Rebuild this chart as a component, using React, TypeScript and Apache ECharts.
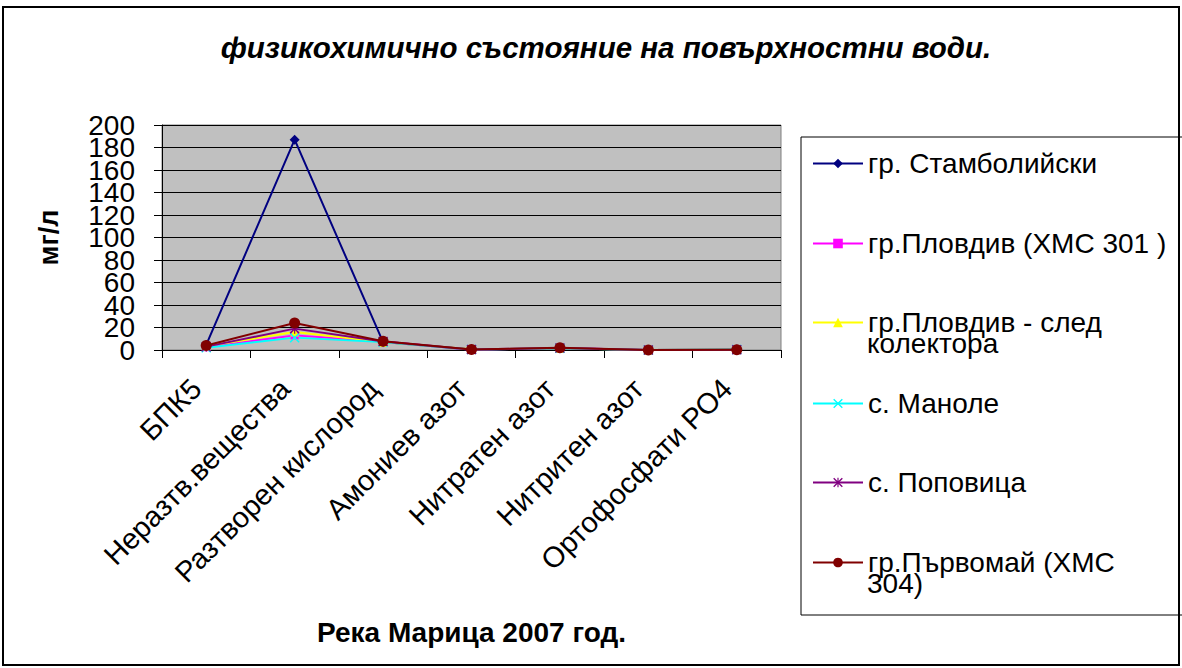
import React, { useEffect, useRef } from "react";
import * as echarts from "echarts";

const title = "физикохимично състояние на повърхностни води.";
const xAxisName = "Река Марица 2007 год.";
const yAxisName = "мг/л";
const categories = [
  "БПК5",
  "Неразтв.вещества",
  "Разтворен кислород",
  "Амониев азот",
  "Нитратен азот",
  "Нитритен азот",
  "Ортофосфати РО4",
];
const seriesNames = [
  "гр. Стамболийски",
  "гр.Пловдив (ХМС 301 )",
  "гр.Пловдив - след колектора",
  "с. Маноле",
  "с. Поповица",
  "гр.Първомай (ХМС 304)",
];
const legendLines = [
  ["гр. Стамболийски"],
  ["гр.Пловдив (ХМС 301 )"],
  ["гр.Пловдив - след", "колектора"],
  ["с. Маноле"],
  ["с. Поповица"],
  ["гр.Първомай (ХМС", "304)"],
];
const yMin = 0;
const yMax = 200;
const yStep = 20;
const stamboliyski = [4.5, 187, 7, 0.4, 1.5, 0.05, 0.3];
const plovdiv301 = [2.5, 13, 7.5, 0.3, 1.8, 0.04, 0.3];
const plovdivSled = [3.5, 16, 7, 0.6, 1.5, 0.05, 0.4];
const manole = [2, 11, 7, 0.5, 1.6, 0.05, 0.5];
const popovitsa = [3, 19, 7.5, 0.4, 1.8, 0.05, 0.3];
const parvomai = [4, 24, 7.8, 0.4, 2, 0.05, 0.3];
const seriesData = [stamboliyski, plovdiv301, plovdivSled, manole, popovitsa, parvomai];
const colors = ["#000080", "#FF00FF", "#FFFF00", "#00FFFF", "#800080", "#800000"];
const crossPath =
  "path://M1,0L5,4L9,0L10,1L6,5L10,9L9,10L5,6L1,10L0,9L4,5L0,1Z";
const starPath =
  "path://M1,0L5,4L9,0L10,1L6,5L10,9L9,10L5,6L1,10L0,9L4,5L0,1ZM4.4,0L5.6,0L5.6,10L4.4,10Z";
const symbols = ["diamond", "rect", "triangle", crossPath, starPath, "circle"];
const symbolSizes = [10, 8, 9, 10, 10, 11];
const legendCenters = [163, 243, 322, 403, 482, 562];

const FONT = "Liberation Sans, Arial, sans-serif";

export default function App() {
  const ref = useRef<HTMLDivElement>(null);
  useEffect(() => {
    const chart = echarts.init(ref.current!, null, { renderer: "svg" });
    const legends = seriesNames.map((name, i) => ({
      orient: "vertical",
      left: 812,
      top: legendCenters[i] - 13.5,
      itemWidth: 50,
      itemHeight: 12,
      padding: 0,
      data: [name],
      formatter: () => legendLines[i][0],
      textStyle: { fontFamily: FONT, fontSize: 28, color: "#000", lineHeight: 23 },
    }));
    const extraTexts: any[] = [];
    legendLines.forEach((lines, i) => {
      if (lines.length > 1) {
        extraTexts.push({
          type: "text",
          left: 867,
          top: legendCenters[i] + 7.5,
          style: {
            text: lines[1],
            fontFamily: FONT,
            fontSize: 28,
            lineHeight: 23,
            fill: "#000",
          },
        });
      }
    });
    const yLabelBase = {
      color: "#000",
      margin: 27,
      fontFamily: FONT,
      fontSize: 28,
      lineHeight: 14,
    };
    const isEven = (v: number) => Math.round(v / yStep) % 2 === 0;
    chart.setOption({
      animation: false,
      backgroundColor: "#fff",
      title: {
        text: title,
        left: 601,
        textAlign: "center",
        top: 27,
        textStyle: {
          fontFamily: FONT,
          fontSize: 29.5,
          fontWeight: "bold",
          fontStyle: "italic",
          color: "#000",
        },
      },
      legend: legends,
      graphic: [
        {
          type: "rect",
          shape: { x: 3, y: 7, width: 1176, height: 658 },
          style: { fill: "none", stroke: "#000", lineWidth: 2 },
          silent: true,
        },
        {
          type: "rect",
          shape: { x: 801, y: 137, width: 400, height: 478 },
          style: { fill: "none", stroke: "#000", lineWidth: 1 },
          silent: true,
        },
        ...extraTexts,
      ],
      grid: {
        left: 162,
        right: 401,
        top: 125,
        bottom: 318,
        show: true,
        backgroundColor: "#C0C0C0",
        borderColor: "#808080",
        borderWidth: 1,
      },
      xAxis: {
        type: "category",
        data: categories,
        boundaryGap: true,
        name: xAxisName,
        nameLocation: "middle",
        nameGap: 268,
        nameTextStyle: { fontFamily: FONT, fontSize: 28, fontWeight: "bold", color: "#000" },
        axisLine: { lineStyle: { color: "#000", width: 1 } },
        axisTick: { show: true, length: 8, lineStyle: { color: "#000" } },
        axisLabel: {
          rotate: 45,
          interval: 0,
          margin: 24,
          padding: [0, 14, 0, 0],
          fontFamily: FONT,
          fontSize: 29,
          color: "#000",
        },
      },
      yAxis: [
        {
          type: "value",
          min: yMin,
          max: yMax,
          interval: yStep,
          position: "left",
          name: yAxisName,
          nameLocation: "middle",
          nameGap: 100,
          nameRotate: 90,
          nameTextStyle: { fontFamily: FONT, fontSize: 27, fontWeight: "bold", color: "#000" },
          axisLine: { show: true, lineStyle: { color: "#000", width: 1 } },
          axisTick: { show: true, length: 8, lineStyle: { color: "#000" } },
          axisLabel: {
            ...yLabelBase,
            showMinLabel: true,
            showMaxLabel: true,
            formatter: (v: number) => (isEven(v) ? String(v) : ""),
          },
          splitLine: { show: true, lineStyle: { color: "#000", width: 1 } },
        },
        {
          type: "value",
          min: yMin,
          max: yMax,
          interval: yStep,
          position: "left",
          offset: 0,
          axisLine: { show: false },
          axisTick: { show: false },
          splitLine: { show: false },
          axisLabel: {
            ...yLabelBase,
            showMinLabel: false,
            showMaxLabel: false,
            formatter: (v: number) => (isEven(v) ? "" : String(v)),
          },
        },
      ],
      series: seriesNames.map((name, i) => ({
        name,
        type: "line",
        yAxisIndex: 0,
        data: seriesData[i],
        symbol: symbols[i],
        symbolSize: symbolSizes[i],
        showAllSymbol: true,
        lineStyle: { color: colors[i], width: 2 },
        itemStyle: { color: colors[i] },
        emphasis: { disabled: true },
      })),
    });
    return () => chart.dispose();
  }, []);
  return (
    <div
      ref={ref}
      style={{ position: "absolute", left: 0, top: 0, width: 1182, height: 668 }}
    />
  );
}
